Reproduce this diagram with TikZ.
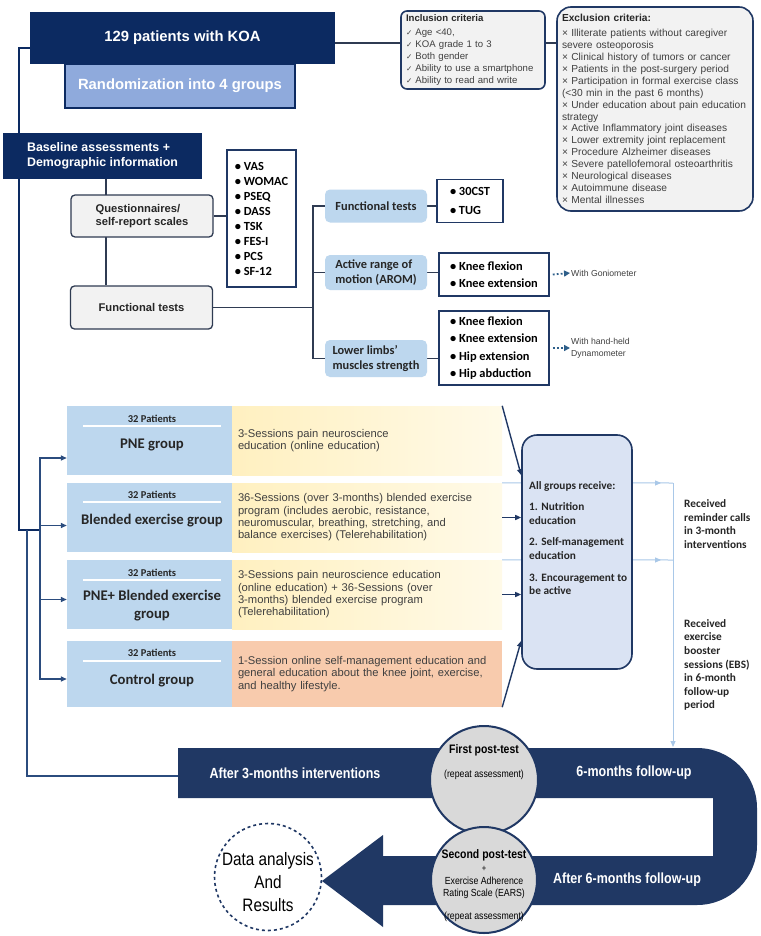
\documentclass[tikz,border=0pt]{standalone}
\usepackage{fontspec}
\setmainfont{Liberation Sans}
\newfontfamily\calfont{Carlito}
\newfontfamily\narrowfont[FakeStretch=0.85]{Liberation Sans}
\newfontfamily\symfont{DejaVu Sans}
\usetikzlibrary{arrows.meta,decorations.markings,backgrounds}

\definecolor{navy}{HTML}{0C2A61}
\definecolor{bandblue}{HTML}{203864}
\definecolor{randblue}{HTML}{8FAADC}
\definecolor{paleblue}{HTML}{BDD7EE}
\definecolor{allblue}{HTML}{DAE3F3}
\definecolor{boxgray}{HTML}{F2F2F2}
\definecolor{slate}{HTML}{2F3B52}
\definecolor{steel}{HTML}{2B4C7E}
\definecolor{lightline}{HTML}{A9C8E8}
\definecolor{txtgray}{HTML}{404040}
\definecolor{darktxt}{HTML}{262626}
\definecolor{yelA}{HTML}{FFF0C0}
\definecolor{yelB}{HTML}{FFFAE8}
\definecolor{peach}{HTML}{F8CBAD}
\definecolor{circgray}{HTML}{D9D9D9}
\definecolor{dotblue}{HTML}{2E5F8A}

\newcommand{\chkmark}{{\symfont\fontsize{7.5}{7.5}\selectfont ✓}}

\begin{document}
\begin{tikzpicture}[x=1pt,y=1pt,yscale=-1,
  navybox/.style={fill=navy,text=white,inner sep=0pt,font=\fontsize{14.8}{17}\selectfont\bfseries},
  graybox/.style={fill=boxgray,draw=slate,line width=1.3pt,rounded corners=4pt,inner sep=0pt,minimum width=142pt,align=left,text=darktxt,font=\fontsize{11.2}{13.5}\selectfont\bfseries},
  listbox/.style={fill=white,draw=bandblue,line width=1.5pt,inner sep=0pt,align=left,text=black},
  subbox/.style={fill=paleblue,rounded corners=5pt,minimum width=102pt,inner sep=0pt,align=left,text=darktxt,font=\calfont\fontsize{12.4}{14.5}\selectfont\bfseries},
  critbox/.style={fill=boxgray,draw=bandblue,line width=1.6pt,inner xsep=5pt,inner ysep=0pt,align=left,text=txtgray},
  note/.style={inner sep=0pt,align=left,text=txtgray,font=\fontsize{8.7}{11.5}\selectfont},
  grpbox/.style={fill=paleblue,minimum width=165pt,inner sep=0pt},
  grpdesc/.style={text width=258pt,inner xsep=6pt,inner ysep=0pt,align=left,text=txtgray,font=\fontsize{11.2}{12.3}\selectfont},
  patlabel/.style={inner sep=0pt,text=darktxt,font=\calfont\fontsize{10.5}{12}\selectfont\bfseries},
  grpname/.style={inner sep=0pt,align=center,text=darktxt,font=\calfont\fontsize{14.7}{18}\selectfont\bfseries},
  patrule/.style={white,line width=2pt},
  allbox/.style={fill=allblue,draw=bandblue,line width=1.6pt,rounded corners=15pt,inner sep=0pt},
  rtext/.style={inner sep=0pt,align=left,text=darktxt,font=\calfont\fontsize{11.3}{13.6}\selectfont\bfseries},
  bandtext/.style={inner sep=0pt,text=white,font=\narrowfont\fontsize{14.7}{17}\selectfont\bfseries},
  postcirc/.style={circle,fill=circgray,draw=bandblue,line width=2pt,inner sep=0pt},
  datacirc/.style={circle,fill=white,draw=bandblue,line width=1.6pt,dashed,inner sep=0pt},
  ctitle/.style={inner sep=0pt,text=black,font=\narrowfont\fontsize{12.3}{14}\selectfont\bfseries},
  csmall/.style={inner sep=0pt,align=center,text=black,font=\narrowfont\fontsize{10.3}{11.8}\selectfont},
  datatext/.style={inner sep=0pt,align=center,text=black,font=\narrowfont\fontsize{18}{23}\selectfont},
  conn/.style={draw=slate,line width=1.5pt},
  trunk/.style={draw=navy,line width=1.5pt},
  garrow/.style={draw=steel,line width=1.4pt,-{Triangle[length=6pt,width=5pt]}},
  inarrow/.style={draw=bandblue,line width=1.4pt,-{Triangle[length=6pt,width=5pt]}},
  dotarrow/.style={color=dotblue,line width=1.8pt,dash pattern=on 1.8pt off 2.2pt,-{Triangle[length=6pt,width=6pt]}},
  lbline/.style={color=lightline,line width=1pt},
  lbarrow/.style={lbline,postaction={decorate},decoration={markings,mark=at position 0.93 with {\arrow{Triangle[length=6pt,width=5pt]}}}}
]
\useasboundingbox (0,0) rectangle (760,936);
\begin{scope}[on background layer]
\fill[white] (0,0) rectangle (760,936);
\end{scope}

% top boxes
\node[navybox,fill=randblue,draw=navy,line width=1.5pt,minimum width=230pt,minimum height=44pt] (rand) at (180,86) {Randomization into 4 groups};
\node[navybox,minimum width=305pt,minimum height=52pt] (koa) at (182.5,38) {129 patients with KOA};

% criteria
\node[critbox,rounded corners=6pt,minimum height=78pt,text width=134pt,font=\fontsize{9.6}{12}\selectfont] (incl) at (473,50) {{\color{darktxt}\bfseries Inclusion criteria}\\[2.5pt]
\chkmark\ Age <40,\\
\chkmark\ KOA grade 1 to 3\\
\chkmark\ Both gender\\
\chkmark\ Ability to use a smartphone\\
\chkmark\ Ability to read and write};
\node[critbox,rounded corners=14pt,minimum height=204pt,text width=186pt,font=\fontsize{10.2}{11.9}\selectfont] (excl) at (655,109) {{\color{darktxt}\bfseries Exclusion criteria:}\\[3pt]
× Illiterate patients without caregiver\\
severe osteoporosis\\
× Clinical history of tumors or cancer\\
× Patients in the post-surgery period\\
× Participation in formal exercise class\\
(<30 min in the past 6 months)\\
× Under education about pain education\\
strategy\\
× Active Inflammatory joint diseases\\
× Lower extremity joint replacement\\
× Procedure Alzheimer diseases\\
× Severe patellofemoral osteoarthritis\\
× Neurological diseases\\
× Autoimmune disease\\
× Mental illnesses};

% baseline assessments
\node[navybox,minimum width=199pt,minimum height=46pt,align=left,font=\fontsize{12.4}{15}\selectfont\bfseries] (base) at (102.5,156) {Baseline assessments +\\Demographic information};
\node[graybox,minimum height=42pt] (quest) at (142,216) {Questionnaires/\\self-report scales};
\node[graybox,minimum height=43pt] (ftest) at (141.5,307.5) {Functional tests};
\node[listbox,minimum width=69pt,minimum height=137pt,font=\calfont\fontsize{12.4}{15}\selectfont\bfseries] (qlist) at (261.5,218.5) {\textbullet\ VAS\\ \textbullet\ WOMAC\\ \textbullet\ PSEQ\\ \textbullet\ DASS\\ \textbullet\ TSK\\ \textbullet\ FES-I\\ \textbullet\ PCS\\ \textbullet\ SF-12};

% functional test branches
\node[subbox,minimum height=33pt] (fsub) at (376,206) {Functional tests};
\node[subbox,minimum height=35pt] (arom) at (376,272.5) {Active range of\\motion (AROM)};
\node[subbox,minimum height=37pt] (lls) at (376,358.5) {Lower limbs’\\muscles strength};
\node[listbox,minimum width=66pt,minimum height=43pt,font=\calfont\fontsize{12.4}{19}\selectfont\bfseries] (flist) at (470,201) {\textbullet\ 30CST\\ \textbullet\ TUG};
\node[listbox,minimum width=110pt,minimum height=43pt,font=\calfont\fontsize{12.4}{17}\selectfont\bfseries] (alist) at (494,274.5) {\textbullet\ Knee flexion\\ \textbullet\ Knee extension};
\node[listbox,minimum width=110pt,minimum height=74pt,font=\calfont\fontsize{12.4}{17.3}\selectfont\bfseries] (mlist) at (494,348) {\textbullet\ Knee flexion\\ \textbullet\ Knee extension\\ \textbullet\ Hip extension\\ \textbullet\ Hip abduction};
\node[note,anchor=west] (gonio) at (571,273) {With Goniometer};
\node[note,anchor=west] (dyna) at (571,348) {With hand-held\\Dynamometer};

% groups
\node[grpbox,minimum height=69pt] (pneL) at (149.5,440.5) {};
\node[grpdesc,left color=yelA,right color=yelB,minimum height=69pt] (pneR) at (367,440.5) {3-Sessions pain neuroscience\\education (online education)};
\node[patlabel] (pneP) at (152,419) {32 Patients};
\draw[patrule] (83,426) -- (221,426);
\node[grpname] (pneN) at (152,445) {PNE group};

\node[grpbox,minimum height=69pt] (bleL) at (149.5,517.5) {};
\node[grpdesc,left color=yelA,right color=yelB,minimum height=69pt] (bleR) at (367,517.5) {36-Sessions (over 3-months) blended exercise\\program (includes aerobic, resistance,\\neuromuscular, breathing, stretching, and\\balance exercises) (Telerehabilitation)};
\node[patlabel] (bleP) at (152,495) {32 Patients};
\draw[patrule] (83,502) -- (221,502);
\node[grpname] (bleN) at (152,521) {Blended exercise group};

\node[grpbox,minimum height=69pt] (pnbL) at (149.5,594.5) {};
\node[grpdesc,left color=yelA,right color=yelB,minimum height=69pt] (pnbR) at (367,594.5) {3-Sessions pain neuroscience education\\(online education) + 36-Sessions (over\\3-months) blended exercise program\\(Telerehabilitation)};
\node[patlabel] (pnbP) at (152,573) {32 Patients};
\draw[patrule] (83,580) -- (221,580);
\node[grpname] (pnbN) at (152,606) {PNE+ Blended exercise\\group};

\node[grpbox,minimum height=66pt] (conL) at (149.5,674) {};
\node[grpdesc,fill=peach,minimum height=66pt] (conR) at (367,674) {1-Session online self-management education and\\general education about the knee joint, exercise,\\and healthy lifestyle.};
\node[patlabel] (conP) at (152,653) {32 Patients};
\draw[patrule] (83,661) -- (221,661);
\node[grpname] (conN) at (152,681) {Control group};

% all groups
\node[allbox,minimum width=110pt,minimum height=234pt] (allg) at (577,552) {};
\node[rtext,anchor=north west] (allt) at (529,481) {All groups receive:\\[8pt]
1. Nutrition\\education\\[8pt]
2. Self-management\\education\\[8pt]
3. Encouragement to\\be active};
\node[rtext,anchor=west] (remind) at (684,524) {Received\\reminder calls\\in 3-month\\interventions};
\node[rtext,anchor=west] (boost) at (684,665) {Received\\exercise\\booster\\sessions (EBS)\\in 6-month\\follow-up\\period};

% follow-up band
\fill[bandblue] (178,748) -- (697,748) arc[start angle=-90,end angle=0,radius=60] -- (757,845) arc[start angle=0,end angle=90,radius=60] -- (383,905) -- (383,927) -- (322,881) -- (383,835) -- (383,856) -- (713,856) -- (713,798) -- (178,798) -- cycle;
\node[bandtext] (t3m) at (295,773) {After 3-months interventions};
\node[bandtext] (t6m) at (634,773) {6-months follow-up};
\node[bandtext] (ta6) at (627,880) {After 6-months follow-up};
\node[postcirc,minimum size=108pt] (post1) at (484,780) {};
\node[postcirc,minimum size=106pt] (post2) at (484,880) {};
\node[ctitle] (post1a) at (484,750) {First post-test};
\node[csmall] (post1b) at (484,775) {(repeat assessment)};
\node[ctitle] (post2a) at (484,855) {Second post-test};
\node[csmall,font=\narrowfont\fontsize{9}{10}\selectfont] (post2b) at (484,869) {+};
\node[csmall] (post2c) at (484,888) {Exercise Adherence\\Rating Scale (EARS)};
\node[csmall] (post2d) at (484,917) {(repeat assessment)};
\node[datacirc,minimum size=107pt] (data) at (268,877) {};
\node[datatext] (datat) at (268,882) {Data analysis\\And\\Results};

% connectors
\coordinate (split) at (19,530);
\coordinate (fan) at (40,530);
\coordinate (low) at (27,530);
\coordinate (bandin) at (178,776);
\coordinate (qx) at (106,0);
\coordinate (brk) at (313,307.5);
\coordinate (rem1) at (673,483);
\coordinate (rem2) at (673,560);
\coordinate (fu) at (673,747);
\begin{scope}[on background layer]
\draw[conn] ([yshift=5pt]koa.east) -- ([yshift=5pt]koa.east -| incl.west);
\draw[conn] ([yshift=5pt]incl.east |- koa.east) -- ([yshift=5pt]koa.east -| excl.west);
\draw[trunk] ([yshift=10pt]koa.west) -| (split) -- (fan);
\draw[trunk,draw=steel] (low) |- (bandin);
\draw[conn] (base.south -| qx) -- (ftest.north -| qx);
\draw[conn] (quest.east) -- (quest.east -| qlist.west);
\draw[conn] (ftest.east) -- (brk);
\draw[conn] (fsub.west) -| (brk) |- (lls.west);
\draw[conn] (arom.west) -- (arom.west -| brk);
\draw[conn] (fsub.east) -- (fsub.east -| flist.west);
\draw[conn] (arom.east) -- (arom.east -| alist.west);
\draw[conn] (lls.east) -- (lls.east -| mlist.west);
\draw[dotarrow] ([xshift=3pt]alist.east) -- ([xshift=-1pt]gonio.west);
\draw[dotarrow] ([xshift=3pt]mlist.east) -- ([xshift=-1pt]dyna.west);
\draw[garrow] (fan) |- ([yshift=17.5pt]pneL.west);
\draw[garrow] (fan) |- ([yshift=8pt]bleL.west);
\draw[garrow] (fan) |- ([yshift=5pt]pnbL.west);
\draw[garrow] (fan) |- ([yshift=5pt]conL.west);
\draw[lbarrow] (bleR.north east) -- (rem1);
\draw[lbarrow] (pnbR.north east) -- (rem2);
\draw[lbline,-{Triangle[length=6pt,width=5pt]}] (rem1) -- (fu);
\end{scope}
\draw[inarrow] (pneR.north east) -- (allg.west |- pneR.south);
\draw[inarrow] (bleR.east) -- (allg.west |- bleR.east);
\draw[inarrow] (pnbR.east) -- (allg.west |- pnbR.east);
\draw[inarrow] (conR.south east) -- (allg.west |- conR.north);

\end{tikzpicture}
\end{document}
